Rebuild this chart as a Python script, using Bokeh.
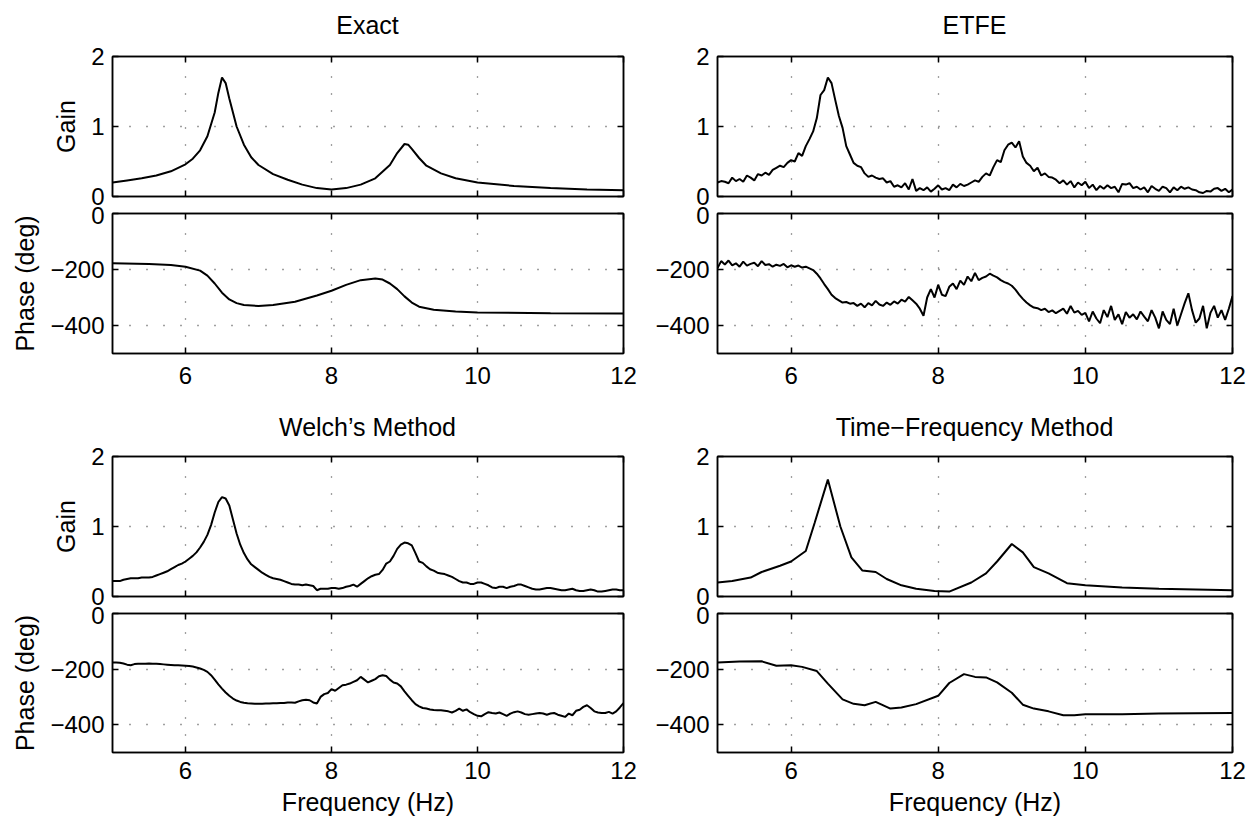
import numpy as np
from bokeh.plotting import figure
from bokeh.layouts import column, row
from bokeh.models import FixedTicker, LinearAxis, Range1d, CustomLabelingPolicy, Div
from bokeh.embed import file_html
from bokeh.resources import INLINE

FONT = "Liberation Sans"

# ---------------- data ----------------
titles = ["Exact", "ETFE", "Welch\u2019s Method", "Time\u2212Frequency Method"]
x_ticks = [6, 8, 10, 12]
gain_ticks = [0, 1, 2]
phase_ticks = [-400, -200, 0]

# Exact (smooth model response)
exact_gain_f = [5.0, 5.2, 5.4, 5.6, 5.8, 6.0, 6.1, 6.2, 6.3, 6.4, 6.45, 6.5, 6.55, 6.6, 6.7, 6.8,
                6.9, 7.0, 7.2, 7.4, 7.6, 7.8, 8.0, 8.2, 8.4, 8.6, 8.8, 8.9, 9.0, 9.05, 9.1, 9.2,
                9.3, 9.5, 9.7, 10.0, 10.5, 11.0, 11.5, 12.0]
exact_gain = [0.20, 0.23, 0.26, 0.30, 0.36, 0.46, 0.54, 0.66, 0.86, 1.20, 1.48, 1.70, 1.62, 1.40,
              1.00, 0.74, 0.56, 0.45, 0.32, 0.24, 0.17, 0.12, 0.10, 0.12, 0.17, 0.26, 0.45, 0.62,
              0.75, 0.74, 0.68, 0.55, 0.44, 0.33, 0.26, 0.20, 0.15, 0.12, 0.10, 0.09]
exact_phase_f = [5.0, 5.5, 5.8, 6.0, 6.2, 6.3, 6.4, 6.5, 6.6, 6.7, 6.8, 7.0, 7.2, 7.5, 7.8, 8.0,
                 8.2, 8.4, 8.6, 8.7, 8.8, 8.9, 9.0, 9.1, 9.2, 9.4, 9.7, 10.0, 11.0, 12.0]
exact_phase = [-178, -180, -184, -190, -204, -222, -250, -283, -307, -320, -327, -330, -327, -315,
               -293, -276, -255, -238, -232, -236, -250, -270, -296, -318, -333, -344, -350, -354,
               -356, -357]

# ETFE (raw empirical transfer function estimate, 0.05 Hz bins)
etfe_f = np.linspace(5.0, 12.0, 141)
etfe_gain = [
    0.20, 0.22, 0.21, 0.19, 0.27, 0.22, 0.25, 0.21, 0.30, 0.27, 0.23, 0.32, 0.30, 0.34, 0.31, 0.38, 0.41, 0.44, 0.42, 0.48,
    0.52, 0.50, 0.62, 0.58, 0.72, 0.82, 0.93, 1.12, 1.45, 1.52, 1.70, 1.62, 1.38, 1.15, 0.98, 0.72, 0.60, 0.48, 0.44, 0.42,
    0.33, 0.28, 0.30, 0.27, 0.25, 0.26, 0.20, 0.22, 0.14, 0.16, 0.13, 0.19, 0.10, 0.25, 0.08, 0.12, 0.09, 0.13, 0.07, 0.11,
    0.16, 0.10, 0.12, 0.09, 0.17, 0.13, 0.18, 0.15, 0.17, 0.20, 0.23, 0.21, 0.28, 0.33, 0.30, 0.42, 0.52, 0.49, 0.66, 0.74,
    0.77, 0.70, 0.79, 0.57, 0.48, 0.44, 0.36, 0.41, 0.30, 0.33, 0.28, 0.27, 0.24, 0.19, 0.23, 0.17, 0.22, 0.13, 0.20, 0.16,
    0.21, 0.12, 0.17, 0.09, 0.15, 0.11, 0.16, 0.12, 0.14, 0.06, 0.18, 0.17, 0.19, 0.12, 0.14, 0.10, 0.13, 0.06, 0.15, 0.11,
    0.08, 0.14, 0.12, 0.06, 0.13, 0.09, 0.14, 0.11, 0.13, 0.10, 0.09, 0.06, 0.05, 0.08, 0.07, 0.11, 0.12, 0.08, 0.11, 0.06,
    0.10]
etfe_phase = [
    -195, -170, -182, -168, -185, -178, -190, -172, -186, -180, -176, -188, -170, -184, -181, -190, -183, -187, -180, -192,
    -185, -190, -186, -193, -190, -196, -202, -215, -232, -252, -270, -290, -302, -310, -318, -316, -322, -320, -330, -322,
    -335, -320, -328, -312, -325, -330, -318, -326, -314, -322, -308, -315, -298, -310, -322, -340, -365, -300, -270, -300,
    -255, -290, -295, -262, -250, -270, -240, -255, -225, -242, -212, -238, -230, -225, -215, -222, -228, -238, -245, -250,
    -258, -272, -290, -305, -318, -328, -336, -338, -345, -340, -352, -346, -356, -348, -340, -358, -330, -354, -348, -362,
    -355, -385, -350, -375, -392, -345, -370, -330, -380, -360, -395, -352, -372, -360, -378, -350, -368, -385, -345, -372,
    -410, -350, -380, -395, -340, -400, -360, -320, -285, -345, -390, -375, -330, -410, -355, -330, -372, -345, -380, -340,
    -295]

# Welch's method (averaged, 0.05 Hz bins)
welch_f = np.linspace(5.0, 12.0, 141)
welch_gain = [
    0.22, 0.22, 0.22, 0.24, 0.25, 0.26, 0.26, 0.26, 0.27, 0.27, 0.27, 0.28, 0.30, 0.32, 0.34, 0.36, 0.39, 0.42, 0.45, 0.47,
    0.50, 0.54, 0.58, 0.63, 0.70, 0.78, 0.88, 1.02, 1.20, 1.35, 1.42, 1.40, 1.30, 1.10, 0.90, 0.74, 0.62, 0.53, 0.46, 0.42,
    0.38, 0.34, 0.31, 0.28, 0.26, 0.25, 0.24, 0.22, 0.20, 0.18, 0.17, 0.17, 0.16, 0.17, 0.16, 0.15, 0.09, 0.11, 0.11, 0.11,
    0.12, 0.12, 0.11, 0.12, 0.14, 0.15, 0.17, 0.14, 0.18, 0.22, 0.26, 0.29, 0.31, 0.32, 0.38, 0.47, 0.50, 0.58, 0.68, 0.74,
    0.77, 0.76, 0.73, 0.62, 0.50, 0.48, 0.43, 0.39, 0.37, 0.34, 0.33, 0.32, 0.30, 0.28, 0.25, 0.22, 0.20, 0.20, 0.18, 0.18,
    0.20, 0.20, 0.18, 0.16, 0.13, 0.12, 0.14, 0.14, 0.12, 0.14, 0.15, 0.17, 0.17, 0.15, 0.13, 0.11, 0.10, 0.10, 0.11, 0.12,
    0.12, 0.11, 0.10, 0.09, 0.09, 0.10, 0.11, 0.09, 0.08, 0.08, 0.09, 0.10, 0.09, 0.07, 0.07, 0.08, 0.09, 0.10, 0.10, 0.09,
    0.09]
welch_phase = [
    -176, -176, -177, -180, -184, -186, -182, -181, -181, -181, -180, -181, -181, -182, -183, -184, -185, -186, -186, -187,
    -188, -189, -191, -194, -198, -203, -210, -222, -238, -255, -270, -284, -296, -306, -313, -318, -321, -323, -324, -325,
    -325, -325, -324, -324, -323, -323, -322, -322, -320, -320, -321, -316, -312, -310, -312, -320, -324, -300, -290, -286,
    -272, -278, -268, -258, -256, -252, -246, -240, -228, -238, -248, -242, -236, -226, -222, -225, -238, -248, -252, -262,
    -280, -296, -312, -326, -334, -340, -342, -345, -347, -348, -348, -350, -352, -356, -350, -342, -350, -345, -355, -362,
    -368, -370, -362, -355, -358, -360, -356, -362, -368, -360, -355, -352, -356, -362, -364, -362, -360, -358, -360, -364,
    -360, -358, -364, -368, -372, -360, -366, -350, -346, -336, -330, -340, -352, -356, -358, -358, -354, -360, -352, -338,
    -322]

# Time-frequency method (coarse estimate)
tf_gain_f = [5.0, 5.2, 5.45, 5.6, 5.85, 6.0, 6.2, 6.32, 6.5, 6.67, 6.82, 6.97, 7.15, 7.3, 7.5, 7.7,
             7.95, 8.15, 8.45, 8.65, 8.8, 9.0, 9.15, 9.3, 9.5, 9.75, 10.0, 10.5, 11.0, 12.0]
tf_gain = [0.20, 0.22, 0.27, 0.35, 0.44, 0.50, 0.65, 1.05, 1.67, 1.00, 0.56, 0.37, 0.35, 0.25, 0.16,
           0.11, 0.08, 0.07, 0.20, 0.33, 0.50, 0.75, 0.63, 0.42, 0.33, 0.19, 0.16, 0.13, 0.11, 0.09]
tf_phase_f = [5.0, 5.3, 5.6, 5.8, 6.0, 6.15, 6.35, 6.5, 6.7, 6.85, 7.0, 7.15, 7.35, 7.5, 7.7, 8.0,
              8.15, 8.35, 8.5, 8.65, 8.8, 9.0, 9.15, 9.3, 9.5, 9.7, 9.85, 10.0, 10.5, 11.0, 12.0]
tf_phase = [-176, -173, -172, -188, -186, -192, -207, -252, -309, -325, -330, -318, -342, -338, -326,
            -296, -250, -218, -228, -230, -248, -285, -328, -342, -352, -366, -366, -362, -362, -360, -358]

panels = [
    (exact_gain_f, exact_gain, exact_phase_f, exact_phase),
    (etfe_f, etfe_gain, etfe_f, etfe_phase),
    (welch_f, welch_gain, welch_f, welch_phase),
    (tf_gain_f, tf_gain, tf_phase_f, tf_phase),
]

# ---------------- layout ----------------
COLS = [dict(left=112, fw=511, right=28), dict(left=66, fw=515, right=22)]
TITLE_H = 44
TITLE_LH = [50, 52]
ROW_GAIN = [dict(top=12, fh=140, bottom=10), dict(top=11, fh=140, bottom=10)]
ROW_PHASE = [dict(top=7, fh=140, bottom=48, tick_gap=13), dict(top=7, fh=139, bottom=67, tick_gap=9)]

HIDE = "for (const i of indices) { indices.unset(i) }\nreturn indices"


def style_axis(ax, ticks, show_labels, overrides=None):
    ax.ticker = FixedTicker(ticks=ticks)
    ax.axis_line_color = "black"
    ax.axis_line_width = 1.5
    ax.major_tick_in = 6
    ax.major_tick_out = 0
    ax.major_tick_line_color = "black"
    ax.major_tick_line_width = 1.5
    ax.minor_tick_line_color = None
    ax.major_label_text_font = FONT
    ax.major_label_text_color = "black"
    ax.axis_label_text_font = FONT
    ax.axis_label_text_font_style = "normal"
    ax.axis_label_text_font_size = "25px"
    ax.axis_label_text_color = "black"
    if show_labels:
        ax.major_label_text_font_size = "24px"
        ax.major_label_standoff = 9
        if overrides:
            ax.major_label_overrides = overrides
    else:
        ax.major_label_text_font_size = "2px"
        ax.major_label_standoff = 0
        ax.major_label_policy = CustomLabelingPolicy(code=HIDE)


def make_fig(c, rspec, yr, yt, ydata, ylabel=None, xlabel=None, xlabels=False, overrides=None):
    cs = COLS[c]
    p = figure(frame_width=cs["fw"], frame_height=rspec["fh"],
               min_border_left=cs["left"], min_border_right=cs["right"],
               min_border_top=rspec["top"], min_border_bottom=rspec["bottom"],
               x_range=Range1d(5, 12), y_range=Range1d(*yr),
               output_backend="svg", toolbar_location=None, tools="")
    p.background_fill_color = "white"
    p.border_fill_color = "white"
    p.outline_line_color = "black"
    p.outline_line_width = 1.5
    xb = p.xaxis[0]
    yl = p.yaxis[0]
    style_axis(xb, x_ticks, xlabels)
    if xlabels:
        xb.major_label_standoff = rspec.get("tick_gap", 9)
    style_axis(yl, yt, True, overrides)
    yl.major_label_standoff = 8
    # inward ticks on top and right sides
    top_ax = LinearAxis()
    style_axis(top_ax, x_ticks, False)
    p.add_layout(top_ax, "above")
    right_ax = LinearAxis()
    style_axis(right_ax, yt, False)
    p.add_layout(right_ax, "right")
    if ylabel:
        yl.axis_label = ylabel
        yl.axis_label_standoff = 8
    if xlabel:
        xb.axis_label = xlabel
        xb.axis_label_standoff = 6
    p.xgrid.ticker = FixedTicker(ticks=[6, 8, 10])
    p.ygrid.ticker = FixedTicker(ticks=[t for t in yt if yr[0] < t < yr[1]])
    for g in (p.xgrid, p.ygrid):
        g.grid_line_color = "black"
        g.grid_line_alpha = 0.75
        g.grid_line_width = 1.3
        g.grid_line_dash = "1 16"
    xs, ys = ydata
    p.line(list(xs), list(ys), line_color="black", line_width=2)
    return p


def title_div(text, c, lh):
    cs = COLS[c]
    w = cs["left"] + cs["fw"] + cs["right"]
    html = ('<div style="width:%dpx;margin-left:%dpx;height:%dpx;line-height:%dpx;'
            "font-family:'Liberation Sans';font-size:25px;color:black;text-align:center;"
            'white-space:nowrap">%s</div>') % (cs["fw"], cs["left"], TITLE_H, lh, text)
    return Div(text=html, width=w, height=TITLE_H, margin=0)


minus = {-400: "\u2212400", -200: "\u2212200", 0: "0"}
rows_out = []
for r in range(2):
    gain_figs, phase_figs, tdivs = [], [], []
    for c in range(2):
        k = r * 2 + c
        gf, gv, pf, pv = panels[k]
        tdivs.append(title_div(titles[k], c, TITLE_LH[r]))
        g = make_fig(c, ROW_GAIN[r], (0, 2), gain_ticks, (gf, gv),
                     ylabel="Gain" if c == 0 else None)
        ph = make_fig(c, ROW_PHASE[r], (-500, 0), phase_ticks, (pf, pv),
                      ylabel="Phase (deg)" if c == 0 else None,
                      xlabel="Frequency (Hz)" if r == 1 else None,
                      xlabels=True, overrides=minus)
        gain_figs.append(g)
        phase_figs.append(ph)
    rows_out.append(row(*tdivs, spacing=0))
    rows_out.append(row(*gain_figs, spacing=0))
    rows_out.append(row(*phase_figs, spacing=0))

layout = column(*rows_out, spacing=0)
layout.background = "white"

open("out.html", "w").write(file_html(layout, INLINE))
